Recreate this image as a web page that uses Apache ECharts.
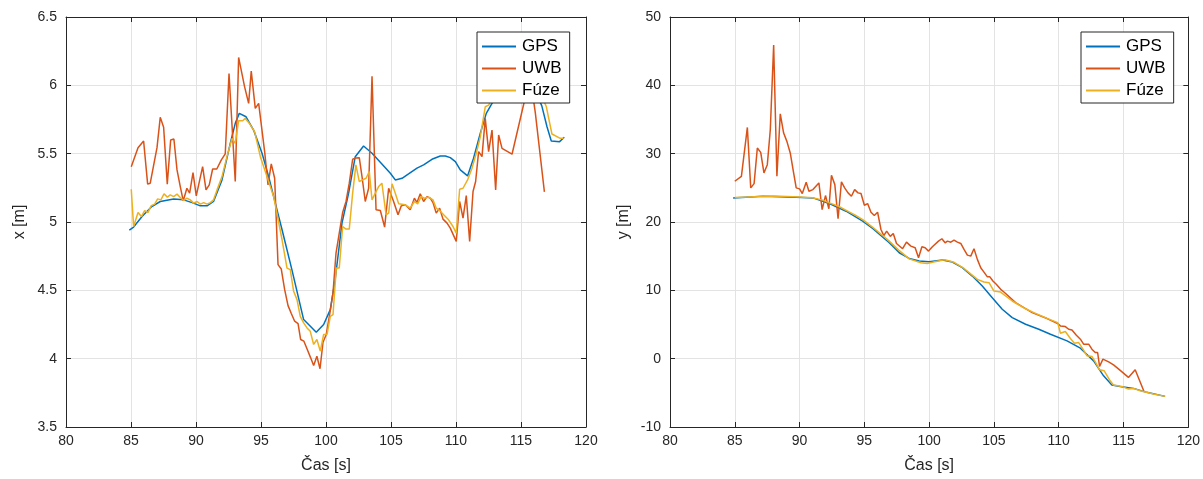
<!DOCTYPE html>
<html><head><meta charset="utf-8">
<script src="https://cdn.jsdelivr.net/npm/echarts@6/dist/echarts.min.js"></script>
<style>html,body{margin:0;padding:0;background:#fff}#c{width:1203px;height:479px}</style>
</head><body><div id="c"></div>
<script>
const seriesNames = ['GPS', 'UWB', 'Fúze'];
const colors = ['#0072BD', '#D95319', '#EDB120'];
const xTicksLeft = {min: 80, max: 120, interval: 5};
const yTicksLeft = {min: 3.5, max: 6.5, interval: 0.5};
const yTicksRight = {min: -10, max: 50, interval: 10};
const xAxisTitle = 'Čas [s]';
const yTitleLeft = 'x [m]';
const yTitleRight = 'y [m]';

const gpsX = [[84.87,4.94],[85.2,4.963],[85.85,5.04],[86.6,5.113],[87.25,5.15],[88.28,5.169],[89.05,5.162],[89.7,5.142],[90.33,5.118],[90.85,5.118],[91.35,5.15],[92.0,5.308],[92.64,5.576],[93.02,5.722],[93.33,5.795],[93.85,5.77],[94.43,5.673],[95.08,5.503],[95.59,5.332],[96.1,5.138],[96.62,4.943],[97.38,4.65],[98.28,4.286],[99.25,4.193],[99.82,4.25],[100.33,4.359],[100.72,4.59],[101.23,4.992],[101.74,5.211],[102.25,5.478],[102.89,5.556],[103.54,5.503],[104.3,5.425],[104.95,5.357],[105.33,5.308],[105.85,5.32],[106.35,5.352],[107.0,5.394],[107.51,5.418],[108.15,5.459],[108.79,5.483],[109.18,5.483],[109.56,5.471],[109.95,5.442],[110.33,5.381],[110.89,5.337],[111.35,5.466],[111.87,5.649],[112.33,5.795],[112.77,5.868],[113.3,5.93],[114,5.98],[115,6.02],[116,5.98],[116.6,5.85],[117.0,5.697],[117.33,5.593],[117.97,5.588],[118.33,5.62]];
const uwbX = [[85.02,5.405],[85.54,5.544],[85.97,5.593],[86.28,5.277],[86.48,5.284],[87.0,5.544],[87.25,5.766],[87.51,5.693],[87.79,5.277],[88.05,5.6],[88.3,5.607],[88.54,5.381],[88.79,5.259],[89.02,5.155],[89.3,5.247],[89.51,5.211],[89.77,5.361],[90.02,5.191],[90.51,5.405],[90.77,5.235],[91.02,5.272],[91.28,5.388],[91.6,5.388],[91.95,5.454],[92.25,5.498],[92.54,6.087],[93.02,5.296],[93.28,6.204],[93.74,5.989],[94.05,5.868],[94.25,6.104],[94.56,5.831],[94.82,5.868],[95.28,5.515],[95.54,5.272],[95.79,5.425],[96.05,5.32],[96.31,4.688],[96.56,4.656],[96.82,4.505],[97.08,4.388],[97.33,4.33],[97.59,4.274],[97.85,4.257],[98.05,4.14],[98.3,4.128],[98.56,4.067],[98.82,4.006],[99.05,3.95],[99.3,4.018],[99.54,3.926],[99.77,4.12],[100.02,4.177],[100.28,4.323],[100.54,4.481],[100.77,4.773],[101.02,4.919],[101.28,5.069],[101.54,5.15],[101.79,5.284],[102.05,5.459],[102.3,5.469],[102.56,5.471],[102.77,5.332],[103.02,5.15],[103.28,5.247],[103.54,6.067],[103.85,5.089],[104.18,5.084],[104.51,4.963],[104.82,5.247],[105.2,5.15],[105.54,5.053],[105.79,5.118],[106.1,5.126],[106.48,5.089],[106.8,5.174],[107.0,5.142],[107.25,5.206],[107.51,5.15],[107.77,5.186],[108.02,5.174],[108.23,5.142],[108.48,5.065],[108.74,5.101],[109.0,5.021],[109.31,4.992],[109.56,4.955],[110.02,4.858],[110.28,5.15],[110.54,5.028],[110.79,5.193],[111.05,4.858],[111.31,5.223],[111.51,5.296],[111.74,5.515],[112.0,5.478],[112.25,5.758],[112.51,5.515],[112.77,5.673],[113.05,5.235],[113.28,5.637],[113.54,5.539],[114.31,5.496],[115.3,5.9],[115.8,6.0],[116.1,5.8],[116.8,5.22]];
const fuzeX = [[85.02,5.24],[85.2,4.967],[85.54,5.069],[85.8,5.04],[86.05,5.084],[86.3,5.069],[86.56,5.12],[86.82,5.131],[87.05,5.169],[87.3,5.162],[87.54,5.206],[87.79,5.182],[88.02,5.198],[88.28,5.186],[88.54,5.204],[88.79,5.179],[89.05,5.157],[89.3,5.174],[89.56,5.162],[89.82,5.138],[90.08,5.15],[90.33,5.131],[90.59,5.142],[90.85,5.131],[91.1,5.142],[91.35,5.162],[91.62,5.235],[92.0,5.332],[92.38,5.478],[92.77,5.612],[93.02,5.576],[93.28,5.741],[93.59,5.741],[93.79,5.758],[94.1,5.722],[94.51,5.661],[94.95,5.478],[95.46,5.332],[95.97,5.186],[96.1,5.126],[96.62,4.87],[97.0,4.663],[97.25,4.651],[97.51,4.493],[97.77,4.432],[98.02,4.31],[98.28,4.262],[98.54,4.225],[98.79,4.2],[99.05,4.104],[99.3,4.14],[99.56,4.055],[99.82,4.177],[100.08,4.177],[100.33,4.31],[100.54,4.323],[100.79,4.663],[101.02,4.663],[101.28,4.967],[101.54,4.948],[101.79,4.948],[102.05,5.211],[102.3,5.418],[102.56,5.296],[102.82,5.308],[103.08,5.32],[103.33,5.369],[103.54,5.162],[103.79,5.211],[104.05,5.259],[104.3,5.284],[104.62,5.053],[104.82,5.065],[105.08,5.279],[105.33,5.211],[105.59,5.133],[106.1,5.126],[106.48,5.101],[106.8,5.15],[107.05,5.133],[107.31,5.186],[107.56,5.174],[107.9,5.182],[108.23,5.162],[108.48,5.101],[108.74,5.084],[109.05,5.053],[109.43,5.016],[109.77,4.967],[110.02,4.919],[110.28,5.24],[110.54,5.247],[110.89,5.308],[111.23,5.394],[111.56,5.503],[111.87,5.624],[112.25,5.843],[112.51,5.855],[113.0,5.93],[114,6.0],[115,6.05],[116,6.0],[116.7,5.9],[116.95,5.843],[117.38,5.644],[118.02,5.612],[118.28,5.612]];

const gpsY = [[84.87,23.53],[87.18,23.77],[89.74,23.62],[91.03,23.53],[92.3,22.7],[93.59,21.58],[94.87,20.12],[95.64,19.05],[96.92,16.96],[97.69,15.5],[98.46,14.67],[99.23,14.28],[100.0,14.19],[101.03,14.43],[101.79,14.14],[102.56,13.31],[103.33,12.09],[104.1,10.63],[104.87,8.93],[105.64,7.23],[106.41,6.01],[107.44,5.04],[108.46,4.31],[109.36,3.58],[110.64,2.6],[111.67,1.53],[112.69,-0.32],[113.46,-2.51],[114.1,-3.87],[114.74,-4.06],[115.77,-4.35],[116.79,-4.93],[118.21,-5.52]];
const uwbY = [[85.0,25.96],[85.51,26.69],[85.97,33.84],[86.23,24.99],[86.49,25.62],[86.74,30.83],[87.0,30.19],[87.25,27.18],[87.51,28.39],[87.74,33.5],[88.0,45.91],[88.25,26.69],[88.51,35.84],[88.77,33.02],[89.02,31.8],[89.28,30.1],[89.54,27.18],[89.74,24.99],[90.0,24.85],[90.21,24.16],[90.51,25.81],[90.72,24.5],[91.03,24.74],[91.49,25.72],[91.74,21.82],[92.0,23.87],[92.26,21.93],[92.46,26.83],[92.72,25.47],[92.97,20.47],[93.23,25.87],[93.48,24.99],[93.74,24.26],[94.0,23.77],[94.25,24.74],[94.51,24.26],[94.74,24.16],[95.0,22.45],[95.25,22.7],[95.51,21.43],[95.77,20.95],[96.02,21.43],[96.28,18.9],[96.5,18.0],[96.72,18.66],[97.0,17.9],[97.23,18.32],[97.48,16.86],[97.95,16.09],[98.25,17.05],[98.59,16.47],[98.92,16.23],[99.18,14.77],[99.44,16.38],[99.69,16.23],[99.95,15.74],[100.25,16.38],[100.72,17.2],[100.98,17.55],[101.23,16.96],[101.41,17.2],[101.67,17.05],[101.92,17.34],[102.18,17.05],[102.44,16.86],[102.69,15.99],[102.95,15.15],[103.21,15.01],[103.46,16.09],[103.72,14.53],[103.98,13.31],[104.23,12.67],[104.48,12.0],[104.67,12.0],[104.92,11.36],[105.18,10.88],[105.52,10.15],[105.77,9.75],[106.67,8.2],[107.95,6.74],[109.1,5.87],[109.92,5.14],[110.13,4.79],[110.51,4.7],[110.77,4.31],[111.02,4.2],[111.36,3.43],[111.67,2.85],[111.92,2.12],[112.31,2.12],[112.56,1.39],[112.82,0.9],[113.0,0.9],[113.15,-1.14],[113.41,-0.07],[113.85,-0.47],[114.23,-0.9],[114.79,-1.78],[115.38,-2.74],[115.9,-1.63],[116.59,-4.85]];
const fuzeY = [[85.0,23.6],[86,23.65],[87,23.75],[88,23.8],[89,23.75],[90,23.65],[91,23.55],[91.8,23.2],[92.3,22.8],[93,22.3],[93.6,21.7],[94.3,21.0],[94.9,20.3],[95.6,19.3],[96.3,18.2],[96.92,17.2],[97.7,15.8],[98.46,14.6],[99.36,14.04],[99.85,13.94],[100.25,14.1],[100.7,14.3],[101.2,14.48],[101.92,14.1],[102.69,13.2],[103.2,12.4],[103.72,11.6],[104.23,11.21],[104.62,11.12],[105.0,9.9],[105.52,9.75],[105.9,9.17],[106.41,8.44],[107.44,7.3],[108.08,6.74],[109.1,5.9],[109.92,5.28],[110.13,3.72],[110.51,3.97],[110.9,2.95],[111.21,2.26],[111.54,2.36],[111.87,1.39],[112.18,0.41],[112.56,0.32],[112.82,-0.47],[113.15,-1.63],[113.51,-1.78],[113.97,-3.24],[114.23,-3.87],[114.87,-4.06],[115.38,-4.45],[115.77,-4.35],[116.28,-4.7],[117.31,-5.18],[118.21,-5.52]];

const FONT = 'Liberation Sans, Arial, sans-serif';
const AXC = '#262626';
const GRIDC = '#e3e3e3';

function xAx(grid, top) {
  return {
    type: 'value', gridIndex: grid, position: top ? 'top' : 'bottom',
    min: xTicksLeft.min, max: xTicksLeft.max, interval: xTicksLeft.interval,
    name: top ? '' : xAxisTitle, nameLocation: 'middle', nameGap: 31,
    nameTextStyle: {fontFamily: FONT, fontSize: 16, color: AXC},
    axisLine: {show: true, onZero: false, lineStyle: {color: AXC, width: 1}},
    axisTick: {show: true, inside: true, length: 5, lineStyle: {color: AXC}},
    axisLabel: {show: !top, fontFamily: FONT, fontSize: 14, color: AXC, margin: 7},
    splitLine: {show: !top, lineStyle: {color: GRIDC, width: 1}}
  };
}
function yAx(grid, right, t, title) {
  return {
    type: 'value', gridIndex: grid, position: right ? 'right' : 'left',
    min: t.min, max: t.max, interval: t.interval,
    name: right ? '' : title, nameLocation: 'middle', nameGap: 38,
    nameTextStyle: {fontFamily: FONT, fontSize: 16, color: AXC},
    axisLine: {show: true, onZero: false, lineStyle: {color: AXC, width: 1}},
    axisTick: {show: true, inside: true, length: 5, lineStyle: {color: AXC}},
    axisLabel: {show: !right, fontFamily: FONT, fontSize: 14, color: AXC, margin: 9},
    splitLine: {show: !right, lineStyle: {color: GRIDC, width: 1}}
  };
}
function legend(left) {
  return {
    left: left, top: 32, orient: 'vertical',
    data: seriesNames.map(n => ({name: n, icon: 'rect'})),
    itemWidth: 34, itemHeight: 2, itemGap: 5, padding: [6, 8, 4, 5],
    backgroundColor: '#fff', borderColor: AXC, borderWidth: 1, borderRadius: 0,
    textStyle: {fontFamily: FONT, fontSize: 17, color: '#000', padding: [0,0,0,1]},
    selectedMode: false, z: 10
  };
}
function line(name, idx, data, axisIndex) {
  return {
    name: name, type: 'line', data: data, xAxisIndex: axisIndex, yAxisIndex: axisIndex,
    showSymbol: false, symbol: 'none', animation: false,
    lineStyle: {color: colors[idx], width: 1.5}, itemStyle: {color: colors[idx]}
  };
}

const chart = echarts.init(document.getElementById('c'), null, {renderer: 'canvas'});
chart.setOption({
  animation: false,
  backgroundColor: '#fff',
  grid: [
    {left: 66, top: 17, width: 520, height: 411},
    {left: 670, top: 17, width: 520, height: 411}
  ],
  xAxis: [xAx(0, false), xAx(1, false), xAx(0, true), xAx(1, true)],
  yAxis: [yAx(0, false, yTicksLeft, yTitleLeft), yAx(1, false, yTicksRight, yTitleRight),
          yAx(0, true, yTicksLeft, ''), yAx(1, true, yTicksRight, '')],
  legend: [legend(477), legend(1081)],
  series: [
    line('GPS', 0, gpsX, 0), line('UWB', 1, uwbX, 0), line('Fúze', 2, fuzeX, 0),
    line('GPS', 0, gpsY, 1), line('UWB', 1, uwbY, 1), line('Fúze', 2, fuzeY, 1)
  ]
});
</script></body></html>
